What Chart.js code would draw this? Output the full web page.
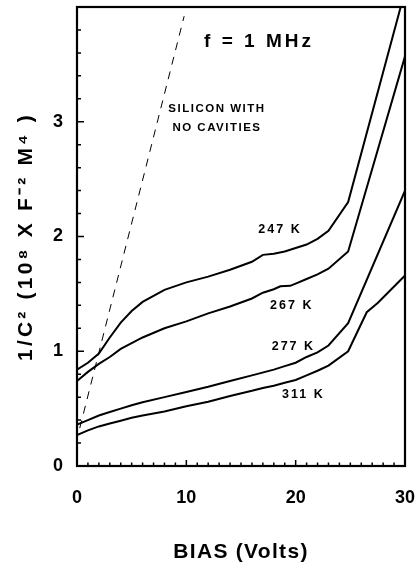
<!DOCTYPE html>
<html>
<head>
<meta charset="utf-8">
<script src="https://cdn.jsdelivr.net/npm/chart.js@4.4.1/dist/chart.umd.min.js"></script>
<style>
html,body{margin:0;padding:0;background:#fff;}
#wrap{width:417px;height:565px;}
</style>
</head>
<body>
<div id="wrap"><canvas id="c" width="417" height="565"></canvas></div>
<script>
// ---- data ----
const bias247 = [0, 1, 2, 3, 4, 5, 6, 8, 10, 12, 14, 16, 17, 18, 19, 20, 21, 22, 23, 24.8, 30];
const invC2_247 = [0.84, 0.90, 0.98, 1.12, 1.25, 1.35, 1.43, 1.535, 1.60, 1.65, 1.71, 1.78, 1.84, 1.85, 1.87, 1.90, 1.93, 1.98, 2.05, 2.30, 4.14];

const bias267 = [0, 1, 2, 3, 4, 5, 6, 8, 10, 12, 14, 16, 17, 18, 18.6, 19.5, 20, 21, 22, 23, 24.8, 30];
const invC2_267 = [0.74, 0.82, 0.89, 0.95, 1.02, 1.07, 1.12, 1.20, 1.26, 1.33, 1.39, 1.46, 1.51, 1.54, 1.566, 1.57, 1.59, 1.63, 1.67, 1.72, 1.87, 3.57];

const bias277 = [0, 1, 2, 3, 4, 5, 6, 8, 10, 12, 14, 16, 18, 19, 20, 21, 22, 23, 24.8, 30];
const invC2_277 = [0.36, 0.40, 0.44, 0.47, 0.50, 0.53, 0.555, 0.60, 0.645, 0.69, 0.74, 0.79, 0.84, 0.87, 0.90, 0.95, 0.99, 1.05, 1.245, 2.40];

const bias311 = [0, 1, 2, 3, 4, 5, 6, 8, 10, 12, 14, 16, 17, 18, 19, 20, 21, 22, 23, 24.8, 26.5, 27.5, 30];
const invC2_311 = [0.27, 0.31, 0.345, 0.37, 0.395, 0.42, 0.44, 0.475, 0.52, 0.56, 0.61, 0.655, 0.68, 0.70, 0.725, 0.75, 0.79, 0.83, 0.875, 1.0, 1.34, 1.42, 1.66];

const biasSilicon = [0.25, 9.8];
const invC2_Silicon = [0.33, 3.92];

const seriesNames = ['247 K', '267 K', '277 K', '311 K'];
const xTickLabels = [0, 10, 20, 30];
const yTickLabels = [0, 1, 2, 3];
const xTitle = 'BIAS (Volts)';
const yTitle = '1/C\u00B2 (10\u2078 X F\u207B\u00B2 M\u2074 )';
const freqText = 'f = 1 MHz';
const siliconText = ['SILICON WITH', 'NO CAVITIES'];

// ---- helpers ----
const pts = (xs, ys) => xs.map((x, i) => ({x: x, y: ys[i]}));
const FAMILY = '"Liberation Sans", Arial, Helvetica, sans-serif';
Chart.defaults.font.family = FAMILY;
Chart.defaults.color = '#000';

function spaced(fnName, spacing) {
  return function (scale) {
    if (scale['_sp_' + fnName]) return;
    const orig = scale[fnName].bind(scale);
    scale[fnName] = function () {
      const ctx = this.ctx;
      ctx.save();
      ctx.letterSpacing = spacing;
      orig.apply(null, arguments);
      ctx.restore();
    };
    scale['_sp_' + fnName] = true;
  };
}

// annotations anchored in data coordinates
const notes = [
  {text: freqText, x: 16.65, y: 3.70, size: 19, sp: '3px'},
  {text: siliconText[0], x: 12.8, y: 3.11, size: 11.5, sp: '1.5px'},
  {text: siliconText[1], x: 12.8, y: 2.95, size: 11.5, sp: '1.5px'},
  {text: seriesNames[0], x: 18.57, y: 2.06, size: 12.5, sp: '2px'},
  {text: seriesNames[1], x: 19.64, y: 1.40, size: 12.5, sp: '2px'},
  {text: seriesNames[2], x: 19.79, y: 1.04, size: 12.5, sp: '2px'},
  {text: seriesNames[3], x: 20.7, y: 0.625, size: 12.5, sp: '2px'}
];

const framePlugin = {
  id: 'frameTicks',
  afterDatasetsDraw(chart) {
    const {ctx, chartArea: a, scales: {x, y}} = chart;
    ctx.save();
    ctx.strokeStyle = '#000';
    ctx.lineWidth = 1.5;
    ctx.beginPath();
    for (let v = 1; v < 30; v++) {
      const px = x.getPixelForValue(v);
      const len = (v % 10 === 0) ? 6 : 3.5;
      ctx.moveTo(px, a.bottom);
      ctx.lineTo(px, a.bottom - len);
    }
    for (let k = 1; k < 20; k++) {
      const v = k * 0.2;
      const py = y.getPixelForValue(v);
      const len = (k % 5 === 0) ? 7 : 4;
      ctx.moveTo(a.left, py);
      ctx.lineTo(a.left + len, py);
    }
    ctx.stroke();
    ctx.lineWidth = 2.2;
    ctx.strokeRect(a.left, a.top, a.right - a.left, a.bottom - a.top);
    // notes
    ctx.fillStyle = '#000';
    ctx.textAlign = 'center';
    ctx.textBaseline = 'middle';
    notes.forEach(n => {
      ctx.font = 'bold ' + n.size + 'px ' + FAMILY;
      ctx.letterSpacing = n.sp;
      ctx.fillText(n.text, x.getPixelForValue(n.x), y.getPixelForValue(n.y));
    });
    ctx.restore();
  }
};

const lineStyle = {borderColor: '#000', borderWidth: 2, pointRadius: 0, tension: 0, fill: false};

new Chart(document.getElementById('c'), {
  type: 'line',
  data: {
    datasets: [
      Object.assign({label: seriesNames[0], data: pts(bias247, invC2_247)}, lineStyle),
      Object.assign({label: seriesNames[1], data: pts(bias267, invC2_267)}, lineStyle),
      Object.assign({label: seriesNames[2], data: pts(bias277, invC2_277)}, lineStyle),
      Object.assign({label: seriesNames[3], data: pts(bias311, invC2_311)}, lineStyle),
      {label: 'Silicon with no cavities', data: pts(biasSilicon, invC2_Silicon), borderColor: '#000',
       borderWidth: 1, borderDash: [8, 7], pointRadius: 0, tension: 0, fill: false}
    ]
  },
  options: {
    responsive: false,
    animation: false,
    devicePixelRatio: 1,
    layout: {padding: {top: 7, right: 12, left: 0, bottom: 0}},
    plugins: {legend: {display: false}, tooltip: {enabled: false}},
    scales: {
      x: {
        type: 'linear', min: 0, max: 30,
        afterFit(s) { s.height = 99; s.paddingLeft = 0; s.paddingRight = 0; },
        afterUpdate: spaced('drawTitle', '1.3px'),
        grid: {display: false, drawTicks: false},
        border: {display: false},
        ticks: {
          stepSize: 10, padding: 21, maxRotation: 0, autoSkip: false,
          font: {size: 18, weight: 'bold'}, color: '#000',
          callback: v => xTickLabels.includes(v) ? String(v) : ''
        },
        title: {display: true, text: xTitle, font: {size: 21, weight: 'bold'}, color: '#000',
                padding: {top: 0, bottom: 0}}
      },
      y: {
        type: 'linear', min: 0, max: 4,
        afterFit(s) { s.width = 77; s.paddingTop = 0; s.paddingBottom = 0; },
        afterUpdate: spaced('drawTitle', '3.2px'),
        grid: {display: false, drawTicks: false},
        border: {display: false},
        ticks: {
          stepSize: 1, padding: 14, autoSkip: false,
          font: {size: 18, weight: 'bold'}, color: '#000',
          callback: v => yTickLabels.includes(v) ? String(v) : ''
        },
        title: {display: true, text: yTitle, font: {size: 21, weight: 'bold'}, color: '#000',
                padding: {top: 14, bottom: 0}}
      }
    }
  },
  plugins: [framePlugin]
});
</script>
</body>
</html>
